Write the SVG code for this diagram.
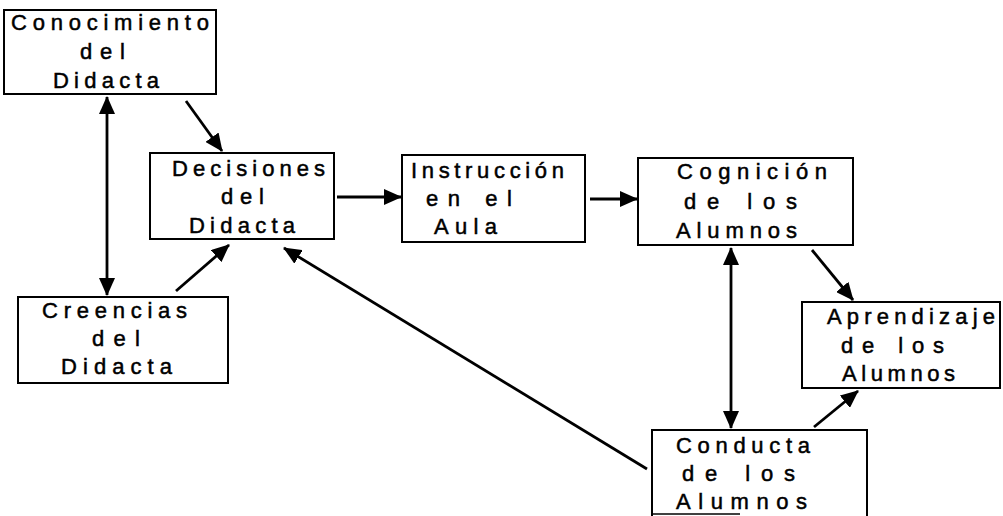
<svg xmlns="http://www.w3.org/2000/svg" width="1003" height="516" viewBox="0 0 1003 516">
  <defs>
    <marker id="head" viewBox="0 0 18 16" refX="17" refY="8" markerWidth="18" markerHeight="16" markerUnits="userSpaceOnUse" orient="auto-start-reverse">
      <path d="M0,0 L18,8 L0,16 Z" fill="#000"/>
    </marker>
    <style>
      .box { fill: #fff; stroke: #000; stroke-width: 2; }
      .lbl { font-family: "Liberation Sans", Arial, sans-serif; font-size: 22px; fill: #000; stroke: #000; stroke-width: 0.5; }
      .edge { stroke: #000; stroke-width: 2.8; fill: none; marker-end: url(#head); }
      .both { marker-start: url(#head); }
    </style>
  </defs>
  <rect width="1003" height="516" fill="#fff"/>

  <g id="conocimiento">
    <rect class="box" x="4" y="10" width="212" height="84"/>
    <text class="lbl" x="11" y="30" textLength="198" lengthAdjust="spacing">Conocimiento</text>
    <text class="lbl" x="80" y="59" textLength="45" lengthAdjust="spacing">del</text>
    <text class="lbl" x="53" y="88" textLength="106" lengthAdjust="spacing">Didacta</text>
  </g>

  <g id="decisiones">
    <rect class="box" x="150" y="153" width="184" height="86"/>
    <text class="lbl" x="172" y="176" textLength="153" lengthAdjust="spacing">Decisiones</text>
    <text class="lbl" x="221" y="204" textLength="43" lengthAdjust="spacing">del</text>
    <text class="lbl" x="189" y="233" textLength="106" lengthAdjust="spacing">Didacta</text>
  </g>

  <g id="creencias">
    <rect class="box" x="18" y="297" width="210" height="86"/>
    <text class="lbl" x="42" y="318" textLength="145" lengthAdjust="spacing">Creencias</text>
    <text class="lbl" x="92" y="346" textLength="48" lengthAdjust="spacing">del</text>
    <text class="lbl" x="61" y="374" textLength="111" lengthAdjust="spacing">Didacta</text>
  </g>

  <g id="instruccion">
    <rect class="box" x="402" y="155" width="183" height="87"/>
    <text class="lbl" x="411" y="178" textLength="153" lengthAdjust="spacing">Instrucción</text>
    <text class="lbl" x="426" y="206" textLength="86" lengthAdjust="spacing">en el</text>
    <text class="lbl" x="434" y="234" textLength="63" lengthAdjust="spacing">Aula</text>
  </g>

  <g id="cognicion">
    <rect class="box" x="638" y="158" width="215" height="87"/>
    <text class="lbl" x="677" y="179" textLength="150" lengthAdjust="spacing">Cognición</text>
    <text class="lbl" x="684" y="209" textLength="113" lengthAdjust="spacing">de los</text>
    <text class="lbl" x="676" y="238" textLength="121" lengthAdjust="spacing">Alumnos</text>
  </g>

  <g id="aprendizaje">
    <rect class="box" x="802" y="302" width="198" height="86"/>
    <text class="lbl" x="827" y="324" textLength="168" lengthAdjust="spacing">Aprendizaje</text>
    <text class="lbl" x="841" y="353" textLength="103" lengthAdjust="spacing">de los</text>
    <text class="lbl" x="842" y="381" textLength="113" lengthAdjust="spacing">Alumnos</text>
  </g>

  <g id="conducta">
    <path class="box" d="M652,516 L652,430 L867,430 L867,516"/>
    <line x1="653" y1="514" x2="740" y2="514" stroke="#000" stroke-width="1.5"/>
    <text class="lbl" x="676" y="453" textLength="134" lengthAdjust="spacing">Conducta</text>
    <text class="lbl" x="682" y="481" textLength="113" lengthAdjust="spacing">de los</text>
    <text class="lbl" x="676" y="509" textLength="131" lengthAdjust="spacing">Alumnos</text>
  </g>

  <g id="connectors">
    <line class="edge both" x1="107" y1="97" x2="107" y2="295"/>
    <line class="edge" x1="186" y1="101" x2="222" y2="151"/>
    <line class="edge" x1="176" y1="291" x2="229" y2="245"/>
    <line class="edge" x1="647" y1="469" x2="284" y2="248"/>
    <line class="edge" x1="337" y1="197" x2="401" y2="197"/>
    <line class="edge" x1="590" y1="199" x2="637" y2="199"/>
    <line class="edge both" x1="731" y1="248" x2="731" y2="428"/>
    <line class="edge" x1="812" y1="250" x2="853" y2="300"/>
    <line class="edge" x1="814" y1="427" x2="858" y2="391"/>
  </g>
</svg>
